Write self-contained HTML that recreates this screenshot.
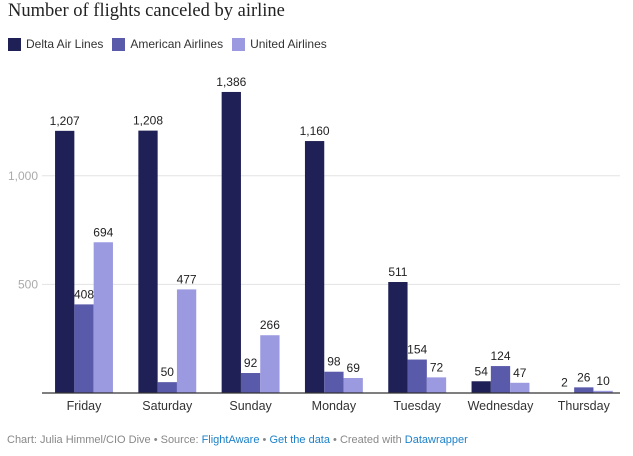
<!DOCTYPE html>
<html><head><meta charset="utf-8"><style>
body{margin:0;background:#fff;width:633px;height:456px;overflow:hidden;font-family:"Liberation Sans",sans-serif}
.title{position:absolute;left:8px;top:1px;font-family:"Liberation Serif",serif;font-size:18.5px;color:#222}
.legend{position:absolute;left:8px;top:37px;font-size:12px;color:#333;display:flex;gap:9px}
.legend span{display:flex;align-items:center}
.sw{width:13px;height:13px;display:inline-block;margin-right:5px}
.foot{position:absolute;left:7px;top:434px;font-size:11px;color:#888}
.foot a{color:#1d81c9;text-decoration:none}
</style></head><body>
<div class="title">Number of flights canceled by airline</div>
<div class="legend">
<span><i class="sw" style="background:#1f2055"></i>Delta Air Lines</span>
<span><i class="sw" style="background:#5a5aaa"></i>American Airlines</span>
<span><i class="sw" style="background:#9b9ae0"></i>United Airlines</span>
</div>
<svg id="chart" width="633" height="456" style="position:absolute;left:0;top:0"></svg>
<div class="foot">Chart: Julia Himmel/CIO Dive • Source: <a>FlightAware</a> • <a>Get the data</a> • Created with <a>Datawrapper</a></div>
<script>
const categories=["Friday","Saturday","Sunday","Monday","Tuesday","Wednesday","Thursday"];
const delta=[1207,1208,1386,1160,511,54,2];
const american=[408,50,92,98,154,124,26];
const united=[694,477,266,69,72,47,10];
const yTicks=[500,1000];
const series=[delta,american,united];
const colors=["#1f2055","#5a5aaa","#9b9ae0"];
const NS="http://www.w3.org/2000/svg";
const svg=document.getElementById("chart");
const y0=393, pxPer=108.6/500;
const y=v=>y0-v*pxPer;
const x=i=>84+i*83.3;
const bw=19.3;
function el(t,a){const e=document.createElementNS(NS,t);for(const k in a)e.setAttribute(k,a[k]);svg.appendChild(e);return e;}
yTicks.forEach(t=>{
 const g=el("line",{x1:42,x2:620,y1:y(t),y2:y(t),stroke:"#e3e3e3","stroke-width":1});
 
 
 const l=el("text",{x:38,y:y(t)+4,"text-anchor":"end","font-size":12,fill:"#aaa","font-family":"Liberation Sans, sans-serif"});
 l.textContent=t.toLocaleString("en-US");
 
 
});
categories.forEach((c,i)=>{
 series.forEach((s,j)=>{
  const bx=x(i)-1.5*bw+j*bw;
  const r=el("rect",{x:bx,y:y(s[i]),width:bw,height:s[i]*pxPer,fill:colors[j]});
  
  
  const t=el("text",{x:bx+bw/2,y:y(s[i])-6,"text-anchor":"middle","font-size":12,fill:"#222","font-family":"Liberation Sans, sans-serif"});
  t.textContent=s[i].toLocaleString("en-US");
  
  
 });
 const l=el("text",{x:x(i),y:410,"text-anchor":"middle","font-size":12.5,fill:"#333","font-family":"Liberation Sans, sans-serif"});
 l.textContent=c;
 
 
});
const ax=el("line",{x1:42,x2:620,y1:y0,y2:y0,stroke:"#333","stroke-width":1.2});


</script>
</body></html>
